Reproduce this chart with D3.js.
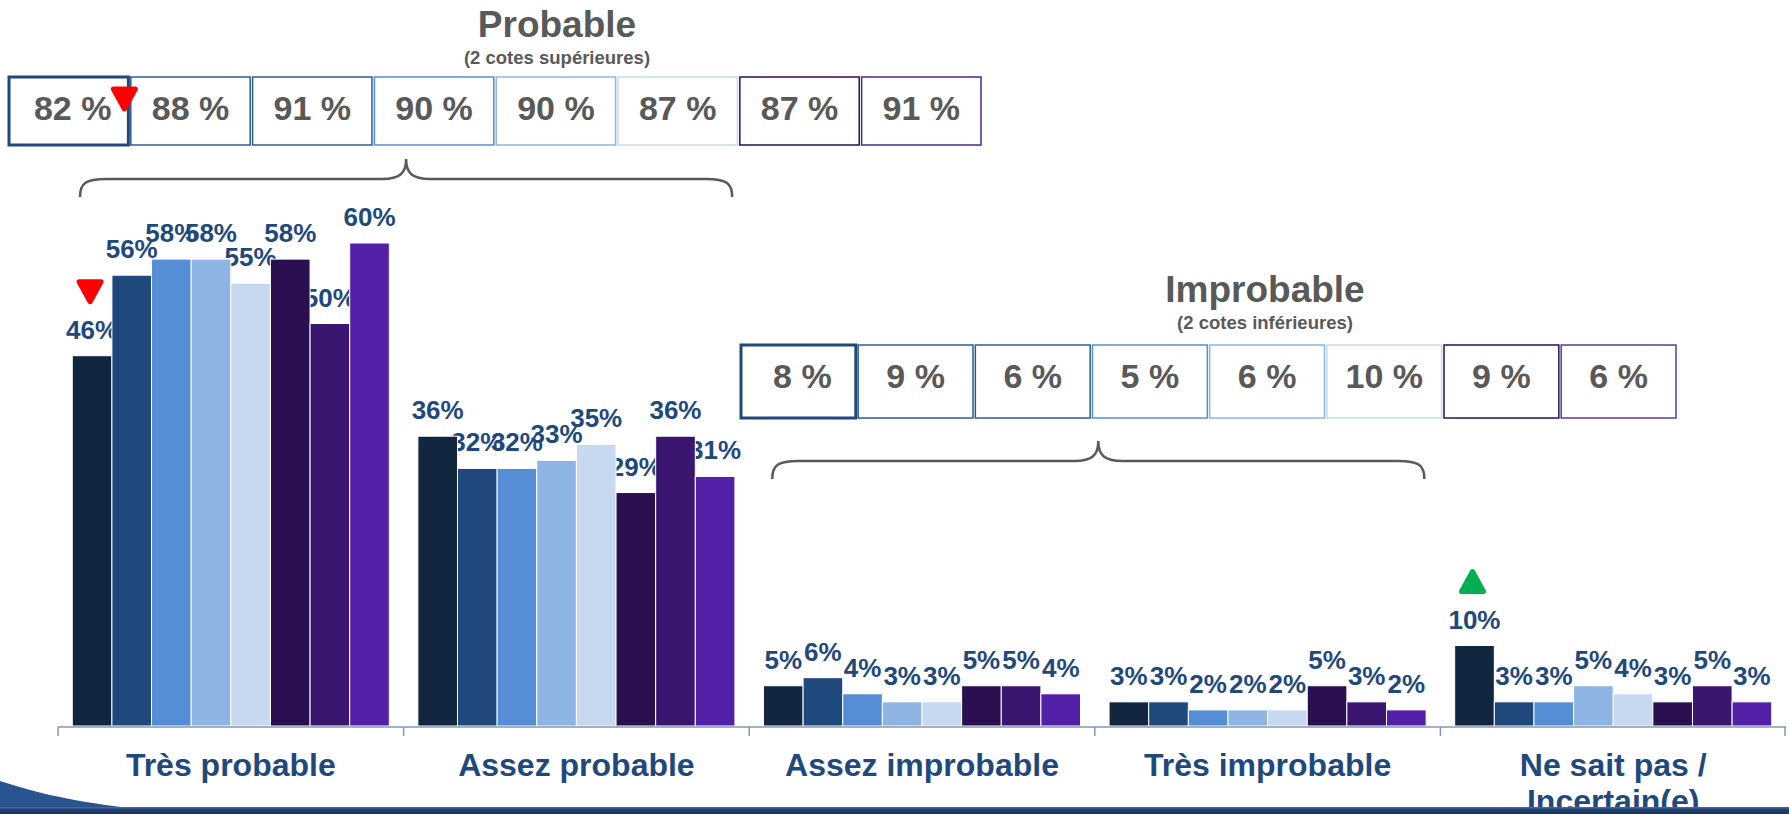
<!DOCTYPE html>
<html>
  <head>
    <meta charset="UTF-8">
    <title>Probable / Improbable</title>
    <style>
      * { margin: 0; padding: 0; overflow: hidden; }
      body { background: #fff; }
      text { font-family: "Liberation Sans", Arial, sans-serif; font-weight: bold; }
    </style>
    <script src="https://d3js.org/d3.v7.min.js"></script>
  </head>
  <body>
    <script type="text/javascript">
      // catégories (axe x)
      const categories = ["Très probable", "Assez probable", "Assez improbable", "Très improbable", "Ne sait pas /\nIncertain(e)"];
      // 8 séries par catégorie
      const seriesIds = ["s1", "s2", "s3", "s4", "s5", "s6", "s7", "s8"];
      const tresProbable = [46, 56, 58, 58, 55, 58, 50, 60];
      const assezProbable = [36, 32, 32, 33, 35, 29, 36, 31];
      const assezImprobable = [5, 6, 4, 3, 3, 5, 5, 4];
      const tresImprobable = [3, 3, 2, 2, 2, 5, 3, 2];
      const neSaitPas = [10, 3, 3, 5, 4, 3, 5, 3];
      const seriesValues = [tresProbable, assezProbable, assezImprobable, tresImprobable, neSaitPas];
      // totaux (2 cotes)
      const topTwo = [82, 88, 91, 90, 90, 87, 87, 91];
      const bottomTwo = [8, 9, 6, 5, 6, 10, 9, 6];
      // flèches de variation : [catégorie, série, sens]
      const markers = [[0, 0, "down"], [4, 0, "up"]];

      const COLORS = ["#12263F", "#1F487C", "#558ED5", "#8EB4E3", "#C6D9F1", "#2A1050", "#3A1670", "#5321A8"];
      const BOX_TOP = ["#1F497D", "#2E5B96", "#2E5B96", "#558ED5", "#8EB4E3", "#C6D9F1", "#2A1050", "#4B2A8A"];
      const BOX_BOTTOM = ["#1F497D", "#2E5B96", "#2E5B96", "#558ED5", "#8EB4E3", "#C6D9F1", "#2A1050", "#5B3A9B"];
      const LABEL = "#1F497D";
      const GREY = "#595959";

      const WIDTH = window.innerWidth;
      const HEIGHT = window.innerHeight;
      const BASE = 726;

      const svg = d3.select("body").append("svg")
        .attr("width", WIDTH)
        .attr("height", HEIGHT);

      const x0 = d3.scaleBand().domain(d3.range(categories.length)).range([58, 1786]).padding(0);
      const x1 = d3.scaleBand().domain(seriesIds).range([0, x0.bandwidth()]).paddingInner(0).paddingOuter(0.36);
      const y = d3.scaleLinear().domain([0, 60]).range([BASE, BASE - 60 * 8.05]);

      const groups = svg.selectAll(".grp")
        .data(seriesValues)
        .enter().append("g")
        .attr("class", "grp")
        .attr("transform", (d, i) => `translate(${x0(i)},0)`);

      // étiquettes (sous les barres, comme dans l'original)
      groups.selectAll(".lbl")
        .data((d) => d)
        .enter().append("text")
        .attr("class", "lbl")
        .attr("x", (d, i) => x1(seriesIds[i]) + x1.bandwidth() / 2)
        .attr("y", (d) => y(d) - 17)
        .attr("text-anchor", "middle")
        .attr("font-size", "26px")
        .attr("fill", LABEL)
        .text((d) => d + "%");

      groups.selectAll("rect")
        .data((d) => d)
        .enter().append("rect")
        .attr("x", (d, i) => x1(seriesIds[i]))
        .attr("y", (d) => y(d))
        .attr("width", x1.bandwidth())
        .attr("height", (d) => BASE - y(d))
        .attr("fill", (d, i) => COLORS[i])
        .attr("stroke", "#fff")
        .attr("stroke-width", 1);

      // axe
      const axis = svg.append("g").attr("stroke", "#8497B0").attr("stroke-width", 1.5);
      axis.append("line").attr("x1", x0(0)).attr("x2", x0.range()[1]).attr("y1", BASE + 1).attr("y2", BASE + 1);
      axis.selectAll(".tick")
        .data(d3.range(categories.length + 1))
        .enter().append("line")
        .attr("x1", (i) => Math.min(x0.range()[0] + i * x0.step(), 1785))
        .attr("x2", (i) => Math.min(x0.range()[0] + i * x0.step(), 1785))
        .attr("y1", BASE + 1).attr("y2", BASE + 10);

      categories.forEach((c, i) => {
        const t = svg.append("text")
          .attr("x", x0(i) + x0.bandwidth() / 2)
          .attr("y", 776)
          .attr("text-anchor", "middle")
          .attr("font-size", "32px")
          .attr("fill", LABEL);
        c.split("\n").forEach((line, k) => {
          t.append("tspan").attr("x", x0(i) + x0.bandwidth() / 2).attr("dy", k ? 36 : 0).text(line);
        });
      });

      // triangles de variation
      const tri = (cx, top, dir, color) => {
        const w = 22, h = 20;
        const pts = dir === "down"
          ? [[cx - w / 2, top], [cx + w / 2, top], [cx, top + h]]
          : [[cx, top], [cx + w / 2, top + h], [cx - w / 2, top + h]];
        svg.append("path")
          .attr("d", "M" + pts.join("L") + "Z")
          .attr("fill", color)
          .attr("stroke", color)
          .attr("stroke-width", 5)
          .attr("stroke-linejoin", "round");
      };
      markers.forEach(([c, s, dir]) => {
        const v = seriesValues[c][s];
        const cx = x0(c) + x1(seriesIds[s]) + x1.bandwidth() / 2 - 2;
        tri(cx, y(v) - 17 - 35 - 22, dir, dir === "down" ? "#FF0000" : "#00B050");
      });

      // accolades
      const brace = (xa, xb, apex) => {
        const yl = apex + 20, yb = yl + 18, mid = (xa + xb) / 2;
        const d = `M${xa},${yb} C${xa},${yl + 4} ${xa + 6},${yl} ${xa + 26},${yl}` +
          ` L${mid - 24},${yl} C${mid - 6},${yl} ${mid},${yl - 6} ${mid},${apex}` +
          ` C${mid},${yl - 6} ${mid + 6},${yl} ${mid + 24},${yl}` +
          ` L${xb - 26},${yl} C${xb - 6},${yl} ${xb},${yl + 4} ${xb},${yb}`;
        svg.append("path").attr("d", d).attr("fill", "none").attr("stroke", GREY).attr("stroke-width", 2.5);
      };
      brace(x0(0) + 22, x0(1) + x0.bandwidth() - 17, 159);
      brace(x0(2) + 23, x0(3) + x0.bandwidth() - 16, 441);

      // boîtes des totaux
      const boxRow = (vals, colors, left, right, top, h, title, sub, titleX, titleY) => {
        const bx = d3.scaleBand().domain(d3.range(vals.length)).range([left, right]).paddingInner(0.02);
        const g = svg.append("g");
        g.selectAll("rect").data(vals).enter().append("rect")
          .attr("x", (d, i) => bx(i)).attr("y", top)
          .attr("width", bx.bandwidth()).attr("height", h)
          .attr("fill", "none")
          .attr("stroke", (d, i) => colors[i])
          .attr("stroke-width", (d, i) => i === 0 ? 3 : 1.5);
        g.selectAll("text").data(vals).enter().append("text")
          .attr("x", (d, i) => bx(i) + bx.bandwidth() / 2 + (i === 0 ? 4 : 0))
          .attr("y", top + 43)
          .attr("text-anchor", "middle")
          .attr("font-size", "34px")
          .attr("fill", GREY)
          .text((d) => d + " %");
        svg.append("text").attr("x", titleX).attr("y", titleY).attr("text-anchor", "middle")
          .attr("font-size", "37px").attr("fill", GREY).text(title);
        svg.append("text").attr("x", titleX).attr("y", titleY + 27).attr("text-anchor", "middle")
          .attr("font-size", "18.5px").attr("fill", GREY).text(sub);
        return bx;
      };
      const bTop = boxRow(topTwo, BOX_TOP, 9, 981, 77, 68, "Probable", "(2 cotes supérieures)", 557, 37);
      boxRow(bottomTwo, BOX_BOTTOM, 741, 1676, 345, 73, "Improbable", "(2 cotes inférieures)", 1265, 302);
      tri(bTop(0) + bTop.bandwidth() - 4, 89, "down", "#FF0000");

      // bandeau décoratif du bas
      const defs = svg.append("defs");
      const grad = defs.append("linearGradient").attr("id", "band").attr("x1", 0).attr("x2", 0).attr("y1", 0).attr("y2", 1);
      grad.append("stop").attr("offset", "0%").attr("stop-color", "#4C6E9E");
      grad.append("stop").attr("offset", "40%").attr("stop-color", "#1F3F6E");
      grad.append("stop").attr("offset", "100%").attr("stop-color", "#183563");
      svg.append("path")
        .attr("d", "M0,781 C30,790 60,800 130,808 L0,808 Z")
        .attr("fill", "#2A5490");
      svg.append("rect").attr("x", 0).attr("y", 807).attr("width", WIDTH).attr("height", 7).attr("fill", "url(#band)");
    </script>
  </body>
</html>
